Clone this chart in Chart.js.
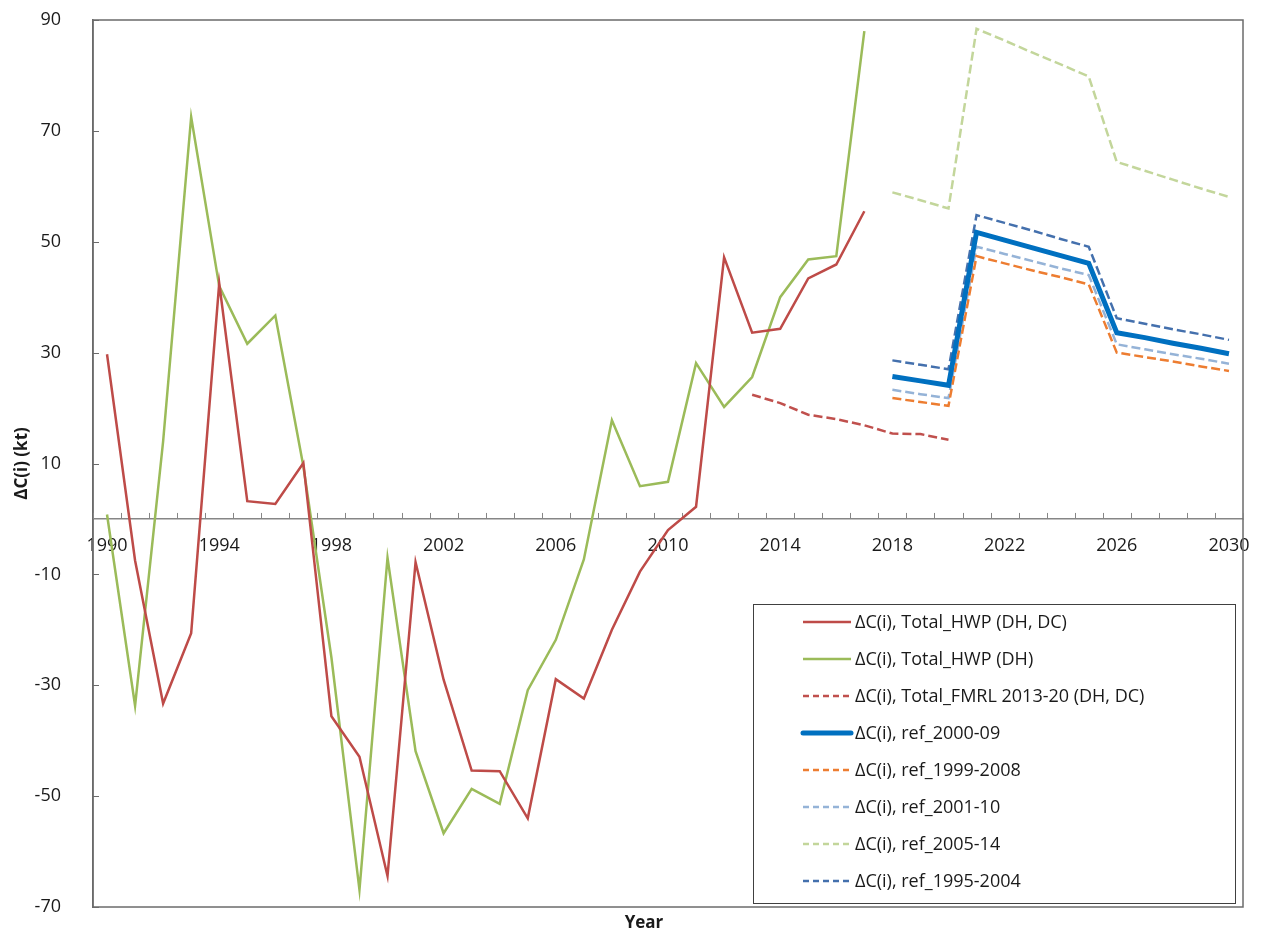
<!DOCTYPE html>
<html>
<head>
<meta charset="utf-8">
<script src="https://cdn.jsdelivr.net/npm/chart.js@4"></script>
<style>
html,body{margin:0;padding:0;background:#fff;}
#wrap{width:1261px;height:934px;position:relative;}
</style>
</head>
<body>
<div id="wrap"><canvas id="c" width="1261" height="934"></canvas></div>
<script>
const FONT = "'Open Sans', 'Noto Sans', sans-serif";

const years = [1990,1991,1992,1993,1994,1995,1996,1997,1998,1999,
               2000,2001,2002,2003,2004,2005,2006,2007,2008,2009,
               2010,2011,2012,2013,2014,2015,2016,2017,2018,2019,
               2020,2021,2022,2023,2024,2025,2026,2027,2028,2029,2030];
const xTickLabels = ['1990','1994','1998','2002','2006','2010','2014','2018','2022','2026','2030'];
const yTicks = [-70,-50,-30,-10,10,30,50,70,90];
const xTitle = 'Year';
const yTitle = 'ΔC(i) (kt)';

// ΔC(i), Total_HWP (DH, DC)  1990-2017
const hwpDhDc = [29.7,-7.5,-33.3,-20.6,42.5,3.2,2.7,10.1,-35.6,-42.9,
                 -64.4,-7.8,-29.0,-45.4,-45.5,-54.0,-28.9,-32.4,-20.0,-9.5,
                 -2.0,2.2,47.2,33.6,34.3,43.4,45.9,55.5,
                 null,null,null,null,null,null,null,null,null,null,null,null,null];
// ΔC(i), Total_HWP (DH)  1990-2017
const hwpDh = [0.8,-33.7,14.0,72.5,42.0,31.6,36.7,9.5,-25.0,-66.9,
               -7.0,-41.9,-56.7,-48.7,-51.4,-30.9,-21.8,-7.3,17.8,5.9,
               6.7,28.1,20.2,25.6,40.0,46.8,47.4,88.0,
               null,null,null,null,null,null,null,null,null,null,null,null,null];
// ΔC(i), Total_FMRL 2013-20 (DH, DC)
const fmrl = [null,null,null,null,null,null,null,null,null,null,
              null,null,null,null,null,null,null,null,null,null,
              null,null,null,22.4,20.9,18.8,18.0,16.9,15.4,15.3,
              14.3,null,null,null,null,null,null,null,null,null,null];
const pre = [null,null,null,null,null,null,null,null,null,null,
             null,null,null,null,null,null,null,null,null,null,
             null,null,null,null,null,null,null,null];
// 2018-2030
const ref2000_09   = pre.concat([25.7,24.9,24.1,51.7,50.3,48.9,47.5,46.1,33.6,32.7,31.7,30.8,29.8]);
const ref1999_2008 = pre.concat([21.8,21.1,20.4,47.4,46.1,44.8,43.6,42.3,30.0,29.2,28.4,27.5,26.7]);
const ref2001_10   = pre.concat([23.3,22.5,21.8,49.1,47.8,46.5,45.2,44.0,31.5,30.6,29.7,28.9,28.0]);
const ref2005_14   = pre.concat([58.9,57.5,56.0,88.4,86.3,84.1,82.0,79.8,64.4,62.8,61.2,59.6,58.1]);
const ref1995_2004 = pre.concat([28.6,27.8,27.0,54.8,53.4,52.0,50.5,49.1,36.2,35.2,34.2,33.3,32.3]);

const seriesLabels = [
  'ΔC(i), Total_HWP (DH, DC)',
  'ΔC(i), Total_HWP (DH)',
  'ΔC(i), Total_FMRL 2013-20 (DH, DC)',
  'ΔC(i), ref_2000-09',
  'ΔC(i), ref_1999-2008',
  'ΔC(i), ref_2001-10',
  'ΔC(i), ref_2005-14',
  'ΔC(i), ref_1995-2004'
];

const DASH = [9,4];
function ds(label, data, color, width, dash){
  return {label, data, borderColor: color, backgroundColor: color, borderWidth: width,
          borderDash: dash || [], legendDash: dash ? [6,4] : [], pointRadius: 0, fill: false,
          tension: 0, spanGaps: false};
}

// plot-area frame and inward tick marks, positions taken from the scales
const frame = {
  id: 'frame',
  beforeDatasetsDraw(chart){
    const {ctx, chartArea: a} = chart;
    const xs = chart.scales.x, ys = chart.scales.y;
    ctx.save();
    ctx.strokeStyle = '#6b6b6b';
    ctx.lineWidth = 1.5;
    ctx.strokeRect(a.left, a.top, a.right - a.left, a.bottom - a.top);
    ctx.lineWidth = 1;
    ctx.beginPath();
    ys.ticks.forEach(t => {
      const y = Math.round(ys.getPixelForValue(t.value)) + 0.5;
      ctx.moveTo(a.left, y); ctx.lineTo(a.left + 6, y);
    });
    ctx.stroke();
    const y0 = ys.getPixelForValue(0);
    const half = (xs.getPixelForValue(1) - xs.getPixelForValue(0)) / 2;
    ctx.strokeStyle = '#868686';
    ctx.beginPath();
    for (let i = 0; i <= years.length; i++) {
      const x = Math.round(xs.getPixelForValue(i) - half) + 0.5;
      ctx.moveTo(x, y0); ctx.lineTo(x, y0 - 6);
    }
    ctx.stroke();
    // x axis title
    ctx.fillStyle = '#1a1a1a';
    ctx.font = 'bold 17px ' + FONT;
    ctx.textAlign = 'center';
    ctx.textBaseline = 'middle';
    ctx.fillText(xTitle, (a.left + a.right) / 2 - 24, a.bottom + 16);
    ctx.restore();
  }
};

const boxLegend = {
  id: 'boxLegend',
  afterDraw(chart){
    const {ctx, chartArea: a} = chart;
    const L = a.right - 490, T = a.bottom - 303, W = 482, H = 299;
    ctx.save();
    ctx.fillStyle = '#fff';
    ctx.fillRect(L, T, W, H);
    ctx.strokeStyle = '#404040';
    ctx.lineWidth = 1;
    ctx.strokeRect(L + 0.5, T + 0.5, W, H);
    ctx.font = '18px ' + FONT;
    ctx.textBaseline = 'middle';
    chart.data.datasets.forEach((d, i) => {
      const y = T + 18 + i * 37;
      ctx.beginPath();
      ctx.setLineDash(d.legendDash);
      ctx.strokeStyle = d.borderColor;
      ctx.lineWidth = d.borderWidth;
      ctx.lineCap = d.borderWidth > 3 ? 'round' : 'butt';
      ctx.moveTo(L + 50, y);
      ctx.lineTo(L + 98, y);
      ctx.stroke();
      ctx.setLineDash([]);
      ctx.fillStyle = '#1a1a1a';
      ctx.fillText(d.label, L + 102, y + 1);
    });
    ctx.restore();
  }
};

new Chart(document.getElementById('c'), {
  type: 'line',
  data: {
    labels: years,
    datasets: [
      ds(seriesLabels[0], hwpDhDc, '#BE4B48', 2.5),
      ds(seriesLabels[1], hwpDh, '#9BBB59', 2.5),
      ds(seriesLabels[2], fmrl, '#C0504D', 2.5, DASH),
      ds(seriesLabels[3], ref2000_09, '#0070C0', 5),
      ds(seriesLabels[4], ref1999_2008, '#ED7D31', 2.5, DASH),
      ds(seriesLabels[5], ref2001_10, '#95B3D7', 2.5, DASH),
      ds(seriesLabels[6], ref2005_14, '#C3D69B', 2.5, DASH),
      ds(seriesLabels[7], ref1995_2004, '#4470AD', 2.5, DASH)
    ]
  },
  options: {
    responsive: false,
    animation: false,
    layout: {padding: {left: 0, right: 18, top: 20, bottom: 27}},
    elements: {line: {tension: 0, borderCapStyle: 'butt', borderJoinStyle: 'miter'}, point: {radius: 0}},
    plugins: {
      legend: {display: false},
      tooltip: {enabled: false},
      title: {display: false}
    },
    scales: {
      x: {
        type: 'category',
        position: {y: 0},
        offset: true,
        grid: {display: true, drawOnChartArea: false, drawTicks: true, tickLength: 12, offset: true,
               color: 'rgba(0,0,0,0)', tickColor: 'rgba(0,0,0,0)', lineWidth: 1},
        border: {display: true, color: '#868686', width: 1.5},
        ticks: {autoSkip: false, maxRotation: 0, minRotation: 0, padding: 4, color: '#1a1a1a',
                font: {family: FONT, size: 18},
                callback: function(v, i){ const s = String(years[i]); return xTickLabels.includes(s) ? s : ''; }}
      },
      y: {
        type: 'linear',
        position: 'left',
        min: yTicks[0],
        max: yTicks[yTicks.length - 1],
        afterFit: function(scale){ scale.width = 93; },
        afterBuildTicks: function(scale){ scale.ticks = yTicks.map(v => ({value: v})); },
        grid: {display: true, drawOnChartArea: false, drawTicks: true, tickLength: 28,
               color: 'rgba(0,0,0,0)', tickColor: 'rgba(0,0,0,0)', lineWidth: 1},
        border: {display: true, color: '#6b6b6b', width: 1.5},
        ticks: {padding: 4, color: '#1a1a1a', font: {family: FONT, size: 18}},
        title: {display: true, text: yTitle, color: '#1a1a1a',
                font: {family: FONT, size: 17, weight: 'bold'}, padding: {top: 12, bottom: 0}}
      }
    }
  },
  plugins: [frame, boxLegend]
});
</script>
</body>
</html>
